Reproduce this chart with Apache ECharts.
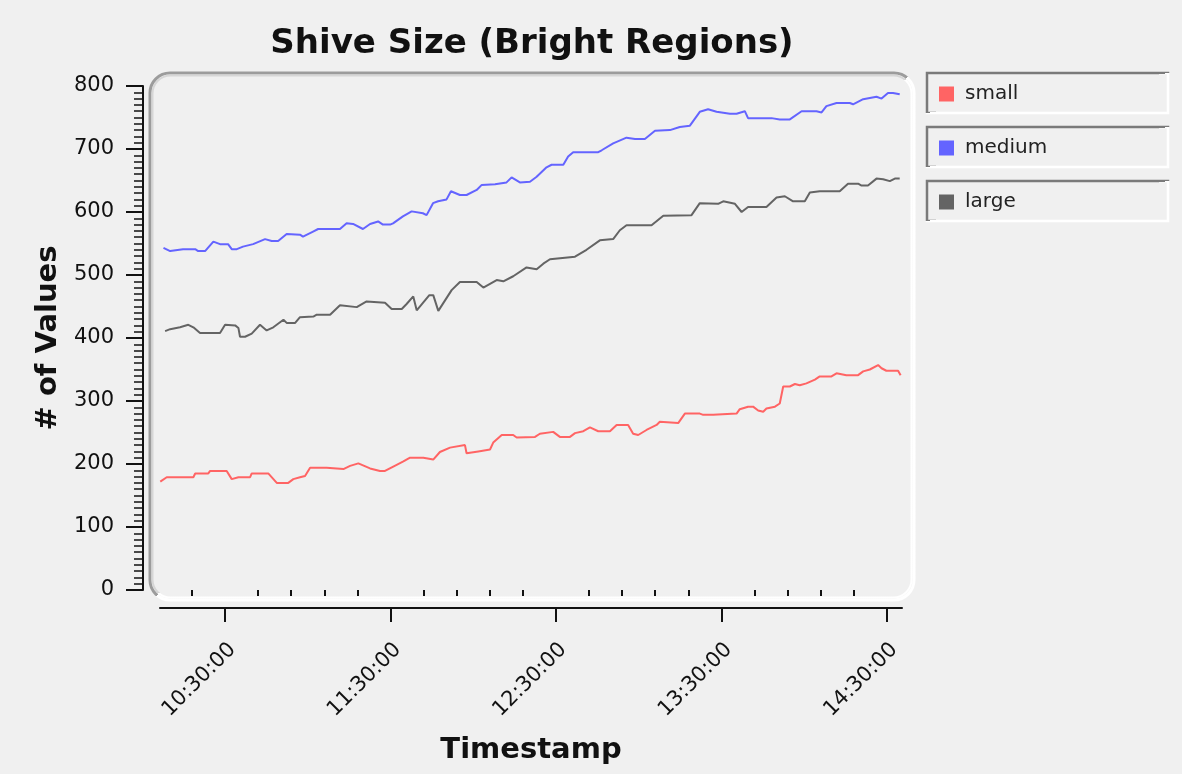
<!DOCTYPE html>
<html>
<head>
<meta charset="utf-8">
<script src="https://cdn.jsdelivr.net/npm/echarts@6/dist/echarts.min.js"></script>
<style>
  html, body { margin: 0; padding: 0; background: #f0f0f0; }
  #chart { width: 1182px; height: 774px; }
</style>
</head>
<body>
<div id="chart"></div>
<script>
const seriesNames = ['small', 'medium', 'large'];

// [time, # of values]
const smallData = [
  ['10:06:30', 172], ['10:08:50', 179], ['10:18:30', 179], ['10:19:10', 185], ['10:23:55', 185],
  ['10:24:35', 189], ['10:30:35', 189], ['10:32:25', 176], ['10:34:50', 179], ['10:39:05', 179],
  ['10:39:40', 185], ['10:45:40', 185], ['10:48:45', 170], ['10:52:55', 170], ['10:54:45', 176],
  ['10:57:10', 179], ['10:59:00', 181], ['11:00:50', 194], ['11:06:50', 194], ['11:07:25', 192],
  ['11:12:55', 192], ['11:15:20', 197], ['11:18:20', 201], ['11:22:35', 193], ['11:26:10', 189],
  ['11:28:00', 189], ['11:31:00', 196], ['11:34:40', 204], ['11:37:05', 210], ['11:41:55', 210],
  ['11:42:30', 207], ['11:45:30', 207], ['11:47:55', 219], ['11:51:35', 226], ['11:57:00', 230],
  ['11:57:35', 217], ['12:01:50', 220], ['12:06:05', 223], ['12:07:15', 234], ['12:10:20', 246],
  ['12:14:30', 246], ['12:15:45', 242], ['12:22:25', 243], ['12:24:10', 248], ['12:29:00', 251],
  ['12:31:25', 243], ['12:35:05', 243], ['12:36:55', 249], ['12:39:55', 252], ['12:42:20', 258],
  ['12:45:20', 252], ['12:49:35', 252], ['12:52:00', 262], ['12:56:10', 262], ['12:58:00', 248],
  ['12:59:50', 246], ['13:02:50', 254], ['13:06:30', 262], ['13:07:40', 267], ['13:14:20', 265],
  ['13:16:45', 280], ['13:22:10', 280], ['13:23:25', 278], ['13:27:00', 278], ['13:27:40', 280],
  ['13:35:30', 280], ['13:36:40', 287], ['13:39:40', 291], ['13:41:30', 291], ['13:43:20', 285],
  ['13:45:10', 283], ['13:46:20', 288], ['13:49:25', 291], ['13:51:10', 296], ['13:52:25', 323],
  ['13:54:50', 323], ['13:56:40', 327], ['13:58:25', 325], ['14:00:50', 328], ['14:03:55', 334],
  ['14:05:40', 339], ['14:09:55', 339], ['14:11:45', 344], ['14:15:20', 341], ['14:19:35', 341],
  ['14:21:25', 347], ['14:23:50', 350], ['14:26:50', 357], ['14:28:05', 352], ['14:29:50', 348],
  ['14:34:05', 348], ['14:34:40', 350], ['14:35:00', 341]
];

const mediumData = [
  ['10:07:40', 543], ['10:10:05', 538], ['10:14:45', 541], ['10:19:10', 541], ['10:20:15', 538],
  ['10:22:45', 538], ['10:25:45', 553], ['10:28:10', 549], ['10:31:05', 549], ['10:32:25', 541],
  ['10:34:15', 541], ['10:36:30', 545], ['10:40:10', 549], ['10:44:30', 557], ['10:46:55', 554],
  ['10:49:15', 554], ['10:52:20', 565], ['10:57:10', 564], ['10:58:15', 561], ['11:01:55', 569],
  ['11:03:45', 573], ['11:11:40', 573], ['11:14:05', 582], ['11:16:25', 581], ['11:20:00', 573],
  ['11:22:35', 581], ['11:25:30', 585], ['11:27:15', 580], ['11:29:50', 580], ['11:30:55', 582],
  ['11:34:30', 593], ['11:37:40', 601], ['11:41:45', 598], ['11:43:05', 595], ['11:45:25', 614],
  ['11:47:15', 617], ['11:50:20', 620], ['11:51:55', 633], ['11:55:10', 627], ['11:57:35', 627],
  ['12:01:15', 635], ['12:03:05', 643], ['12:07:55', 644], ['12:12:05', 647], ['12:13:55', 655],
  ['12:16:55', 647], ['12:20:35', 648], ['12:23:00', 656], ['12:26:35', 671], ['12:28:25', 675],
  ['12:32:40', 675], ['12:34:25', 688], ['12:36:15', 695], ['12:45:20', 695], ['12:46:35', 698],
  ['12:50:45', 709], ['12:55:35', 718], ['12:58:40', 716], ['13:02:15', 716], ['13:05:55', 729],
  ['13:11:20', 730], ['13:14:55', 735], ['13:18:35', 737], ['13:22:10', 759], ['13:25:10', 763],
  ['13:28:15', 759], ['13:33:05', 756], ['13:35:30', 756], ['13:38:30', 760], ['13:39:40', 749],
  ['13:48:10', 749], ['13:48:45', 751], ['13:51:10', 747], ['13:54:50', 747], ['13:59:05', 760],
  ['14:04:30', 760], ['14:06:20', 758], ['14:08:05', 768], ['14:11:45', 773], ['14:16:35', 773],
  ['14:17:45', 771], ['14:21:25', 779], ['14:26:15', 783], ['14:28:05', 780], ['14:30:25', 789],
  ['14:32:15', 789], ['14:32:55', 787], ['14:34:40', 787]
];

const largeData = [
  ['10:08:15', 411], ['10:10:05', 414], ['10:13:40', 417], ['10:16:40', 421], ['10:18:30', 417],
  ['10:20:55', 408], ['10:28:10', 408], ['10:30:00', 421], ['10:33:40', 420], ['10:34:50', 416],
  ['10:35:25', 402], ['10:37:15', 402], ['10:39:40', 407], ['10:42:40', 421], ['10:45:05', 412],
  ['10:47:30', 417], ['10:51:10', 429], ['10:52:20', 424], ['10:55:25', 424], ['10:57:10', 433],
  ['11:02:00', 434], ['11:03:15', 437], ['11:08:05', 437], ['11:11:40', 452], ['11:17:45', 449],
  ['11:21:20', 458], ['11:28:00', 456], ['11:30:25', 446], ['11:34:05', 446], ['11:35:50', 454],
  ['11:38:15', 466], ['11:39:30', 444], ['11:44:05', 468], ['11:45:30', 468], ['11:47:20', 443],
  ['11:52:10', 476], ['11:55:10', 489], ['12:01:15', 489], ['12:03:40', 480], ['12:08:30', 492],
  ['12:10:55', 490], ['12:14:30', 498], ['12:19:20', 512], ['12:23:00', 509], ['12:25:25', 518],
  ['12:27:50', 525], ['12:36:55', 529], ['12:41:05', 540], ['12:45:55', 555], ['12:50:45', 557],
  ['12:53:10', 571], ['12:55:35', 579], ['13:04:40', 579], ['13:08:55', 594], ['13:19:10', 595],
  ['13:22:10', 614], ['13:28:50', 613], ['13:30:40', 617], ['13:34:55', 613], ['13:37:20', 600],
  ['13:39:40', 608], ['13:46:20', 608], ['13:50:00', 623], ['13:53:00', 625], ['13:56:00', 617],
  ['14:00:15', 617], ['14:02:05', 631], ['14:05:40', 633], ['14:12:55', 633], ['14:15:55', 645],
  ['14:19:35', 645], ['14:20:50', 642], ['14:23:10', 642], ['14:26:15', 653], ['14:28:40', 652],
  ['14:31:05', 649], ['14:32:55', 653], ['14:34:40', 653]
];

const xTickLabels = ['10:30:00', '11:30:00', '12:30:00', '13:30:00', '14:30:00'];
const xRange = ['10:06:24', '14:35:30'];
const yTickLabels = [0, 100, 200, 300, 400, 500, 600, 700, 800];

const colors = ['#ff6464', '#6464ff', '#646464'];
const FONT = 'DejaVu Sans';
const INK = '#111';

// minutes since 10:00:00
function toMin(t) {
  const p = t.split(':').map(Number);
  return (p[0] - 10) * 60 + p[1] + (p[2] || 0) / 60;
}
function toLabel(v) {
  const hit = xTickLabels.find(l => Math.abs(toMin(l) - v) < 0.01);
  return hit || '';
}

const xMin = toMin(xRange[0]);
const xMax = toMin(xRange[1]);
const xMajor = xTickLabels.map(toMin);
const xMinor = [];
for (let t = xMajor[0] - 12; t < xMax; t += 12) {
  if (t > xMin && !xMajor.some(m => Math.abs(m - t) < 0.01)) xMinor.push(t);
}

// dark on top/left, white on bottom/right, split along the box diagonal
function bevel(x, y, w, h, dark) {
  const cx = x + w / 2, cy = y + h / 2;
  return {
    type: 'linear', global: true,
    x: cx - h / 4, y: cy - w / 4, x2: cx + h / 4, y2: cy + w / 4,
    colorStops: [
      {offset: 0, color: dark}, {offset: 0.5, color: dark},
      {offset: 0.5, color: '#ffffff'}, {offset: 1, color: '#ffffff'}
    ]
  };
}

function bevelRect(x, y, w, h, r, dark, lw) {
  return {
    type: 'rect', z: 0,
    shape: {x: x, y: y, width: w, height: h, r: r},
    style: {fill: 'none', stroke: bevel(x, y, w, h, dark), lineWidth: lw}
  };
}

const legendBoxes = seriesNames.map((n, i) => bevelRect(927, 73 + i * 54, 241, 40, 0, '#7a7a7a', 2.5));

const chart = echarts.init(document.getElementById('chart'));
chart.setOption({
  backgroundColor: '#f0f0f0',
  animation: false,
  title: {
    text: 'Shive Size (Bright Regions)',
    left: 527,
    top: 22,
    textAlign: 'center',
    textStyle: {fontFamily: FONT, fontSize: 34, fontWeight: 'bold', color: INK}
  },
  legend: {
    data: seriesNames,
    orient: 'vertical',
    left: 939,
    top: 84,
    padding: 0,
    itemGap: 34,
    itemWidth: 15,
    itemHeight: 15,
    icon: 'rect',
    textStyle: {fontFamily: FONT, fontSize: 20, lineHeight: 20, color: '#222', padding: [0, 0, 0, 6]}
  },
  graphic: [
    bevelRect(150, 73, 764, 527, 20, '#9c9c9c', 3),
    bevelRect(152.5, 75.5, 759, 522, 18, '#d6d6d6', 2)
  ].concat(legendBoxes),
  grid: {left: 160, right: 280, top: 86, bottom: 184, containLabel: false, outerBoundsMode: 'none'},
  xAxis: [
    {
      type: 'value',
      min: xMin,
      max: xMax,
      position: 'bottom',
      offset: 18,
      axisLine: {show: true, onZero: false, lineStyle: {color: INK, width: 2}},
      axisTick: {show: true, customValues: xMajor, length: 14, lineStyle: {color: INK, width: 2}},
      axisLabel: {
        customValues: xMajor, rotate: 45, margin: 31, verticalAlign: 'top', formatter: toLabel,
        fontFamily: FONT, fontSize: 21, color: INK
      },
      splitLine: {show: false},
      name: 'Timestamp',
      nameLocation: 'middle',
      nameGap: 128,
      nameTextStyle: {fontFamily: FONT, fontSize: 29, fontWeight: 'bold', color: INK}
    },
    {
      type: 'value',
      min: xMin,
      max: xMax,
      position: 'bottom',
      offset: 18,
      axisLine: {show: false},
      axisTick: {show: true, customValues: xMinor, length: 6, lineStyle: {color: INK, width: 2}},
      axisLabel: {show: false},
      splitLine: {show: false}
    }
  ],
  yAxis: {
    type: 'value',
    min: yTickLabels[0],
    max: yTickLabels[yTickLabels.length - 1],
    interval: 100,
    offset: 17,
    axisLine: {show: true, lineStyle: {color: INK, width: 2}},
    axisTick: {show: true, length: 17, lineStyle: {color: INK, width: 2}},
    minorTick: {show: true, splitNumber: 10, length: 9, lineStyle: {color: INK, width: 1.5}},
    axisLabel: {margin: 29, fontFamily: FONT, fontSize: 21, color: INK},
    splitLine: {show: false},
    name: '# of Values',
    nameLocation: 'middle',
    nameRotate: 90,
    nameGap: 60,
    nameTextStyle: {fontFamily: FONT, fontSize: 29, fontWeight: 'bold', color: INK}
  },
  series: [smallData, mediumData, largeData].map((d, i) => ({
    name: seriesNames[i],
    type: 'line',
    data: d.map(p => [toMin(p[0]), p[1]]),
    showSymbol: false,
    symbol: 'none',
    color: colors[i],
    lineStyle: {color: colors[i], width: 2},
    z: 3
  }))
});
</script>
</body>
</html>
